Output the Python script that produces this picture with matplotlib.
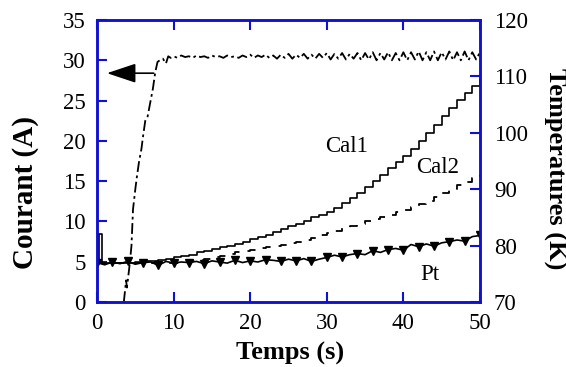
import matplotlib
matplotlib.use("Agg")
import matplotlib.pyplot as plt

plt.rcParams['font.family'] = ['Liberation Serif', 'DejaVu Serif']

# courant (A)
t_cour = [3.5, 3.8, 3.9, 4.0, 4.3, 4.5, 4.7, 5.0, 5.2, 5.5, 5.8, 6.0, 6.3, 6.6,
          7.0, 7.3, 7.6, 7.9, 8.2, 8.6, 9.0, 9.3, 9.6,
          10.0, 10.5, 11.0, 11.5, 12.0, 12.5, 13.0, 13.5, 14.0, 14.5, 15.0, 15.5,
          16.0, 16.5, 17.0, 17.5, 18.0, 18.5, 19.0, 19.5, 20.0, 20.5, 21.0, 21.5,
          22.0, 22.5, 23.0, 23.5, 24.0, 24.5, 25.0, 25.5, 26.0, 26.5, 27.0, 27.5,
          28.0, 28.5, 29.0, 29.5, 30.0, 30.5, 31.0, 31.5, 32.0, 32.5, 33.0, 33.5,
          34.0, 34.5, 35.0, 35.5, 36.0, 36.5, 37.0, 37.5, 38.0, 38.5, 39.0, 39.5,
          40.0, 40.5, 41.0, 41.5, 42.0, 42.5, 43.0, 43.5, 44.0, 44.5, 45.0, 45.5,
          46.0, 46.5, 47.0, 47.5, 48.0, 48.5, 49.0, 49.5, 50.0]
courant = [0.0, 2.7, 1.8, 2.5, 5.0, 7.0, 11.5, 14.0, 15.5, 17.5, 19.0, 20.5, 22.5, 23.0,
           25.0, 26.5, 28.5, 29.8, 30.0, 30.2, 29.6, 30.5, 30.3,
           30.5, 30.3, 30.6, 30.4, 30.5, 30.3, 30.6, 30.4, 30.5, 30.3, 30.6, 30.4,
           30.5, 30.3, 30.6, 30.4, 30.5, 30.3, 30.6, 30.4, 30.7, 30.3, 30.6, 30.4,
           30.7, 30.3, 30.6, 30.2, 30.7, 30.3, 30.8, 30.2, 30.7, 30.3, 30.8, 30.2,
           30.7, 30.2, 30.8, 30.3, 30.9, 30.1, 30.8, 30.2, 30.9, 30.1, 30.8, 30.2,
           30.9, 30.0, 30.9, 30.1, 31.0, 30.0, 30.9, 30.1, 31.0, 30.0, 30.9, 30.0,
           31.0, 30.0, 31.0, 30.1, 31.1, 30.0, 31.0, 30.0, 31.1, 30.0, 31.0, 30.1,
           31.1, 30.0, 31.0, 30.0, 31.1, 30.0, 31.0, 30.1, 31.0]

# temperatures (K)
t_temp = [0, 0.3, 0.6] + list(range(1, 51))
cal1 = [77.0, 82.0, 77.0,
        77.0, 76.9, 77.0, 77.0, 77.1, 77.2, 77.3, 77.5, 77.7, 77.9,
        78.1, 78.4, 78.8, 79.1, 79.4, 79.7, 80.0, 80.3, 80.7, 81.1,
        81.5, 81.9, 82.4, 82.9, 83.4, 83.9, 84.4, 85.0, 85.5, 86.0,
        86.7, 87.5, 88.4, 89.4, 90.4, 91.5, 92.6, 93.7, 94.8, 95.9,
        97.2, 98.6, 100.0, 101.4, 102.9, 104.4, 105.8, 107.1, 108.3, 109.6]
cal2 = [77.0, 77.0, 77.0,
        77.0, 77.0, 76.9, 77.0, 77.0, 77.0, 77.0, 77.0, 77.0, 77.0,
        77.1, 77.3, 77.5, 77.7, 77.9, 78.1, 78.6, 78.9, 79.1, 79.3,
        79.6, 79.8, 80.0, 80.2, 80.4, 80.7, 81.0, 81.4, 81.8, 82.2,
        82.6, 83.1, 83.5, 83.9, 84.3, 84.7, 85.1, 85.5, 85.9, 86.4,
        86.9, 87.4, 88.0, 88.6, 89.3, 90.0, 90.7, 91.3, 92.0, 92.5]
t_pt = list(range(0, 51))
pt = [77.0, 76.6, 77.1, 76.8, 77.2, 76.7, 77.0, 77.1, 76.5, 77.2, 76.9,
      77.1, 77.0, 77.2, 76.8, 77.3, 77.1, 76.9, 77.4, 77.0, 77.3,
      77.1, 77.5, 77.4, 77.2, 77.6, 77.3, 77.7, 77.2, 77.6, 77.9,
      78.3, 78.0, 78.4, 78.6, 78.4, 79.1, 78.8, 79.3, 79.5, 79.2,
      80.2, 79.8, 80.3, 79.9, 80.5, 80.7, 81.0, 80.8, 81.6, 81.8]

bleu = '#1010d0'

fig = plt.figure(figsize=(5.66, 3.67), dpi=100)
ax = fig.add_axes([0.1714, 0.177, 0.6766, 0.7685])
ax2 = ax.twinx()

ax.plot(t_cour, courant, color='black', lw=1.3, ls=(0, (6, 2, 1.5, 2)))
ax2.plot(t_temp, cal1, color='black', lw=1.2, drawstyle='steps-post')
ax2.plot(t_temp, cal2, color='black', lw=1.3, ls=(0, (5, 5)), drawstyle='steps-post')
ax2.plot(t_pt, pt, color='black', lw=1.2, marker='v', ms=6, markevery=2)

ax.annotate('', xy=(1.3, 28.4), xytext=(7.4, 28.4),
            arrowprops=dict(arrowstyle='-|>,head_length=0.9,head_width=0.3',
                            color='black', lw=1.2,
                            mutation_scale=20, shrinkA=0, shrinkB=0))

ax2.text(32.6, 97.5, 'Cal1', fontsize=16.5, ha='center', va='center')
ax2.text(44.5, 93.8, 'Cal2', fontsize=16.5, ha='center', va='center')
ax2.text(43.5, 74.8, 'Pt', fontsize=16.5, ha='center', va='center')

ax.set_xlim(0, 50)
ax.set_ylim(0, 35)
ax2.set_ylim(70, 120)
ax.set_xticks([0, 10, 20, 30, 40, 50])
ax.set_yticks([0, 5, 10, 15, 20, 25, 30, 35])
ax2.set_yticks([70, 80, 90, 100, 110, 120])

ax.tick_params(axis='x', direction='in', top=True, length=7, width=1.5,
               color=bleu, labelsize=16.5, pad=8)
ax.tick_params(axis='y', direction='in', length=7, width=1.5, color=bleu,
               labelsize=16.5, pad=8)
ax2.tick_params(axis='y', direction='in', length=7, width=1.5, color=bleu,
                labelsize=16.5, pad=10)

for a in (ax, ax2):
    for s in a.spines.values():
        s.set_color(bleu)
        s.set_linewidth(1.8)

ax.set_xlabel('Temps (s)', fontsize=19, fontweight='bold', va='center')
ax.xaxis.set_label_coords(0.504, -0.181)
ax.set_ylabel('Courant (A)', fontsize=21, fontweight='bold', va='center')
ax.yaxis.set_label_coords(-0.188, 0.387)
ax2.set_ylabel('Temperatures (K)', fontsize=19, fontweight='bold', rotation=-90,
               va='center')
ax2.yaxis.set_label_coords(1.196, 0.472)

fig.savefig('out.png', dpi=100)
